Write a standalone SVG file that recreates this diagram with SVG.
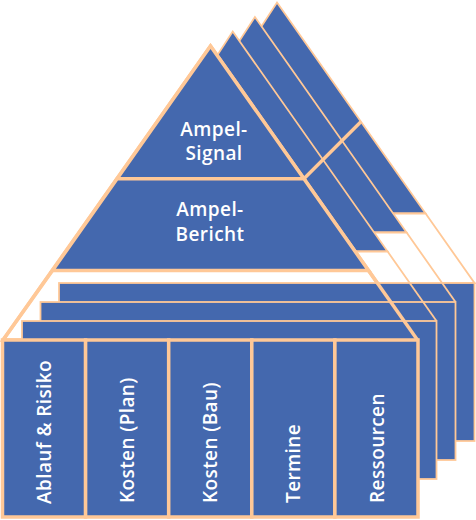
<svg xmlns="http://www.w3.org/2000/svg" width="476" height="520" viewBox="0 0 476 520">
<style>
.bl{fill:#4468AE}
.wh{fill:#FFFFFF}
.so{stroke:#FFC897;stroke-width:1.8;stroke-linejoin:miter}
.sf{stroke:#FFC897;stroke-width:3.5;stroke-linejoin:miter}
.ln{fill:none;stroke:#FFC897;stroke-width:1.8}
.lf{fill:none;stroke:#FFC897;stroke-width:3.5}
.t{font-family:"Open Sans","Noto Sans",sans-serif;font-weight:600;font-size:19px;fill:#FFFFFF;letter-spacing:0.4px}
.tm{text-anchor:middle}
</style>
<rect width="476" height="520" fill="#FFFFFF"/>
<!-- back layers (pyramid parts) -->
<g id="layer3">
<polygon class="bl so" points="277,2.5 425.6,213.5 139.9,213.5"/>
<polygon class="wh so" points="425.6,213.5 474.5,283 94.7,283 139.9,213.5"/>
</g>
<g id="layer2">
<polygon class="bl so" points="254.9,17 406.6,232.5 114.8,232.5"/>
<polygon class="wh so" points="406.6,232.5 455.5,302 69.6,302 114.8,232.5"/>
</g>
<g id="layer1">
<polygon class="bl so" points="232.7,31.5 387.6,251.5 89.7,251.5"/>
<polygon class="wh so" points="387.6,251.5 436.5,321 44.5,321 89.7,251.5"/>
</g>
<!-- front pyramid -->
<g id="front-pyramid">
<polygon class="wh sf" points="210.5,46 417.5,340 3,340"/>
<polygon class="bl" points="210.5,46 368.5,270.5 52.5,270.5"/>
</g>
<g id="ampel-signal">
<polygon class="bl sf" points="210.5,46 303.9,178.7 117.1,178.7"/>
<text class="t tm" x="214" y="136">Ampel-</text>
<text class="t tm" x="214" y="160">Signal</text>
</g>
<g id="ampel-bericht">
<polygon class="bl sf" points="117.1,178.7 303.9,178.7 368.5,270.5 52.5,270.5"/>
<text class="t tm" x="210" y="215.7">Ampel-</text>
<text class="t tm" x="210" y="240.7">Bericht</text>
</g>
<!-- back slabs -->
<g id="slab3"><rect class="bl so" x="59" y="283" width="415.5" height="158"/></g>
<g id="slab2"><rect class="bl so" x="40.5" y="302" width="415" height="158"/></g>
<g id="slab1"><rect class="bl so" x="22" y="321" width="414.5" height="158"/></g>
<!-- connectors / edge lines -->
<g id="connectors">
<line class="lf" x1="303.9" y1="178.7" x2="360.9" y2="121.7"/>
<line class="ln" x1="409.7" y1="283" x2="436.5" y2="321"/>
<line class="ln" x1="442.1" y1="283" x2="455.5" y2="302"/>
<line class="lf" x1="368.5" y1="270.5" x2="417.5" y2="340"/>
<line class="lf" x1="52.5" y1="270.5" x2="3" y2="340"/>
</g>
<!-- front slab columns -->
<g id="col-ablauf">
<rect class="bl sf" x="2.5" y="340" width="83.1" height="177"/>
<text class="t" transform="translate(51,504) rotate(-90)">Ablauf &amp; Risiko</text>
</g>
<g id="col-kosten-plan">
<rect class="bl sf" x="85.6" y="340" width="83.1" height="177"/>
<text class="t" transform="translate(134,503) rotate(-90)">Kosten (Plan)</text>
</g>
<g id="col-kosten-bau">
<rect class="bl sf" x="168.7" y="340" width="83.1" height="177"/>
<text class="t" transform="translate(217,503) rotate(-90)">Kosten (Bau)</text>
</g>
<g id="col-termine">
<rect class="bl sf" x="251.8" y="340" width="83.1" height="177"/>
<text class="t" transform="translate(300,503) rotate(-90)">Termine</text>
</g>
<g id="col-ressourcen">
<rect class="bl sf" x="334.9" y="340" width="83.1" height="177"/>
<text class="t" transform="translate(383.5,503) rotate(-90)">Ressourcen</text>
</g>
</svg>
